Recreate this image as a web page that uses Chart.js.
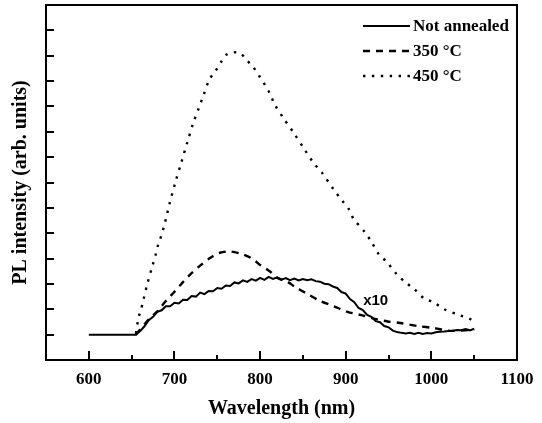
<!DOCTYPE html>
<html>
<head>
<meta charset="utf-8">
<script src="https://cdn.jsdelivr.net/npm/chart.js@4/dist/chart.umd.min.js"></script>
<style>
  html, body { margin: 0; padding: 0; background: #fff; }
  #wrap { width: 542px; height: 423px; position: relative; }
</style>
</head>
<body>
<div id="wrap"><canvas id="plChart"></canvas></div>
<script>
// Wavelength (nm) and PL intensity (arb. units, y tick = 1 unit)
const notAnnealedX = [600, 655, 660, 665, 670, 675, 680, 685, 690, 695, 700, 705, 710, 715, 720, 725, 730, 735, 740, 745,
  750, 755, 760, 765, 770, 775, 780, 785, 790, 795, 800, 805, 810, 815, 820, 825, 830, 835, 840, 845,
  850, 855, 860, 865, 870, 875, 880, 885, 890, 895, 900, 905, 910, 915, 920, 925, 930, 935, 940, 945,
  950, 955, 960, 965, 970, 975, 980, 985, 990, 995, 1000, 1005, 1010, 1015, 1020, 1025, 1030, 1035, 1040, 1045, 1050];
const notAnnealedY = [1.00, 1.00, 1.14, 1.33, 1.57, 1.70, 1.90, 1.96, 2.12, 2.12, 2.26, 2.23, 2.38, 2.37, 2.52, 2.50, 2.66, 2.60, 2.72, 2.71,
  2.84, 2.81, 2.94, 2.92, 3.06, 3.02, 3.14, 3.08, 3.19, 3.13, 3.24, 3.16, 3.28, 3.20, 3.26, 3.17, 3.23, 3.15, 3.21, 3.14,
  3.19, 3.15, 3.18, 3.11, 3.09, 3.01, 2.99, 2.90, 2.84, 2.68, 2.62, 2.40, 2.28, 2.05, 1.97, 1.78, 1.70, 1.53, 1.49, 1.34,
  1.29, 1.16, 1.10, 1.07, 1.05, 1.07, 1.03, 1.07, 1.03, 1.06, 1.05, 1.09, 1.11, 1.12, 1.14, 1.15, 1.18, 1.17, 1.22, 1.17, 1.23];

const t350X = [655, 670, 680, 689, 699, 707, 718, 730, 742, 753, 765, 777, 789, 800, 812, 820, 832, 841, 853, 870,
  886, 902, 917, 937, 949, 964, 984, 1003, 1022, 1048, 1050];
const t350Y = [1.00, 1.60, 1.92, 2.29, 2.65, 2.96, 3.36, 3.72, 4.03, 4.23, 4.28, 4.19, 4.03, 3.75, 3.48, 3.24, 3.08, 2.88, 2.65, 2.33,
  2.12, 1.90, 1.78, 1.60, 1.52, 1.46, 1.34, 1.26, 1.15, 1.19, 1.20];

const t450X = [655, 658, 661, 664, 668, 674, 678, 681, 685, 688, 691, 694, 701, 708, 715, 722, 728, 734, 741, 748,
  755, 761, 769, 777, 785, 791, 799, 806, 812, 817, 828, 839, 852, 862, 872, 886, 895, 904, 909, 922,
  930, 939, 948, 959, 969, 980, 992, 1002, 1015, 1032, 1045, 1050];
const t450Y = [1.05, 1.66, 2.00, 2.40, 2.96, 3.68, 4.15, 4.55, 4.94, 5.30, 5.70, 6.13, 7.00, 7.79, 8.58, 9.35, 9.90, 10.45, 11.07, 11.40,
  11.78, 12.05, 12.13, 12.10, 11.80, 11.60, 11.20, 10.83, 10.47, 10.08, 9.50, 8.97, 8.30, 7.79, 7.40, 6.72, 6.32, 5.93, 5.57, 5.06,
  4.66, 4.15, 3.87, 3.40, 3.08, 2.80, 2.41, 2.29, 2.00, 1.78, 1.62, 1.50];

const X_MAJOR = [600, 700, 800, 900, 1000, 1100];
const X_MINOR = [650, 750, 850, 950, 1050];
const Y_TICKS = [1, 2, 3, 4, 5, 6, 7, 8, 9, 10, 11, 12, 13];
const LABELS = ['Not annealed', '350 °C', '450 °C'];

const SERIF = '"Liberation Serif", "Times New Roman", serif';
const pts = (xs, ys) => xs.map((x, i) => ({ x, y: ys[i] }));

// frame, inward ticks, legend and the "x10" note
const decorPlugin = {
  id: 'decor',
  afterDraw(chart) {
    const { ctx, chartArea: a, scales: { x, y } } = chart;
    ctx.save();
    ctx.strokeStyle = '#000';
    ctx.lineWidth = 2;
    ctx.strokeRect(a.left, a.top, a.right - a.left, a.bottom - a.top);
    ctx.beginPath();
    X_MAJOR.forEach(v => { const px = Math.round(x.getPixelForValue(v)); ctx.moveTo(px, a.bottom); ctx.lineTo(px, a.bottom - 9); });
    X_MINOR.forEach(v => { const px = Math.round(x.getPixelForValue(v)); ctx.moveTo(px, a.bottom); ctx.lineTo(px, a.bottom - 5); });
    Y_TICKS.forEach(v => { const py = Math.round(y.getPixelForValue(v)); ctx.moveTo(a.left, py); ctx.lineTo(a.left + 8, py); });
    ctx.stroke();

    // legend
    ctx.font = 'bold 17px ' + SERIF;
    ctx.textBaseline = 'middle';
    ctx.fillStyle = '#000';
    chart.data.datasets.forEach((ds, i) => {
      const ly = 26 + i * 25;
      ctx.beginPath();
      ctx.lineWidth = ds.borderWidth;
      ctx.setLineDash(ds.borderDash || []);
      ctx.moveTo(363, ly);
      ctx.lineTo(410, ly);
      ctx.stroke();
      ctx.setLineDash([]);
      ctx.fillText(ds.label, 413, ly + 1);
    });

    ctx.font = 'bold 15px "Liberation Sans", Arial, sans-serif';
    ctx.textAlign = 'center';
    ctx.fillText('x10', x.getPixelForValue(935), y.getPixelForValue(2.35));
    ctx.restore();
  }
};

new Chart(document.getElementById('plChart'), {
  type: 'line',
  data: {
    datasets: [
      { label: LABELS[0], data: pts(notAnnealedX, notAnnealedY), borderColor: '#000', borderWidth: 2, pointRadius: 0, tension: 0 },
      { label: LABELS[1], data: pts(t350X, t350Y), borderColor: '#000', borderWidth: 2.4, borderDash: [7, 6], pointRadius: 0, tension: 0.3 },
      { label: LABELS[2], data: pts(t450X, t450Y), borderColor: '#000', borderWidth: 2.4, borderDash: [2.4, 6.5], pointRadius: 0, tension: 0.3 },
    ]
  },
  options: {
    responsive: true, maintainAspectRatio: false, animation: false,
    layout: { padding: { left: 0, top: 5, right: 25, bottom: 0 } },
    plugins: { legend: { display: false }, tooltip: { enabled: false } },
    scales: {
      x: {
        type: 'linear', min: 550, max: 1100,
        afterBuildTicks: s => { s.ticks = X_MAJOR.map(v => ({ value: v })); },
        afterFit: s => { s.height = 63; },
        grid: { display: false }, border: { display: false },
        ticks: { color: '#000', padding: 1, maxRotation: 0, callback: v => String(v),
          font: { family: SERIF, size: 17, weight: 'bold' } },
        title: { display: true, text: 'Wavelength (nm)', color: '#000', padding: { top: 0, bottom: 2 },
          font: { family: SERIF, size: 20, weight: 'bold', lineHeight: 1.2 } }
      },
      y: {
        type: 'linear', min: 0, max: 14,
        afterFit: s => { s.width = 46; },
        grid: { display: false }, border: { display: false },
        ticks: { display: false },
        title: { display: true, text: 'PL intensity (arb. units)', color: '#000', padding: { top: 9, bottom: 0 },
          font: { family: SERIF, size: 20, weight: 'bold', lineHeight: 1.2 } }
      }
    }
  },
  plugins: [decorPlugin]
});
</script>
</body>
</html>
